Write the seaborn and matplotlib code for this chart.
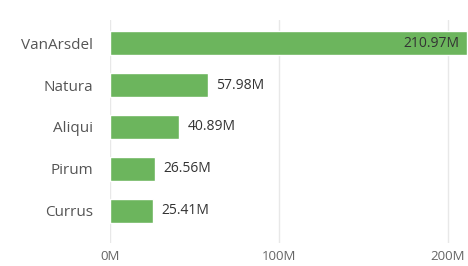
import pandas as pd
import seaborn as sns
import matplotlib.pyplot as plt

# Data (values in millions)
brands = ['VanArsdel', 'Natura', 'Aliqui', 'Pirum', 'Currus']
revenue = [210.97, 57.98, 40.89, 26.56, 25.41]
xticks = [0, 100, 200]
xtick_labels = ['0M', '100M', '200M']

df = pd.DataFrame({'brand': brands, 'revenue': revenue})

sns.set_theme(style='white')
plt.rcParams['font.family'] = ['Open Sans', 'DejaVu Sans']

fig = plt.figure(figsize=(4.68, 2.66), dpi=100)
ax = fig.add_axes([0.235, 0.087, 0.765, 0.838])

sns.barplot(data=df, x='revenue', y='brand', orient='h', color='#6cb55d',
            saturation=1, width=0.57, ax=ax, zorder=2)

ax.set_xlim(0, 211.8)
ax.set_ylim(4.76, -0.55)
ax.set_xticks(xticks)
ax.set_xticklabels(xtick_labels, fontsize=9.5, color='#666666')
ax.tick_params(axis='y', labelsize=11, labelcolor='#555555', length=0, pad=12)
ax.tick_params(axis='x', length=0, pad=5)
ax.set_xlabel('')
ax.set_ylabel('')
for s in ax.spines.values():
    s.set_visible(False)
ax.grid(axis='x', color='#e8e8e8', linewidth=1, zorder=0)
ax.set_axisbelow(True)

# Data labels: inside end for the long bar, outside end for the rest
for i, v in enumerate(revenue):
    if v > 150:
        ax.annotate(f'{v:.2f}M', (v, i), xytext=(-5, 0), textcoords='offset points',
                    ha='right', va='center', fontsize=10, color='#333333')
    else:
        ax.annotate(f'{v:.2f}M', (v, i), xytext=(6, 0), textcoords='offset points',
                    ha='left', va='center', fontsize=10, color='#333333')

fig.savefig('out.png', dpi=100)
